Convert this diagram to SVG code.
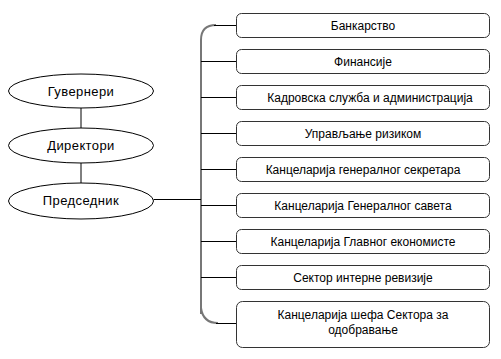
<svg xmlns="http://www.w3.org/2000/svg" width="501" height="359" viewBox="0 0 501 359">
<style>
.ell{fill:#fff;stroke:#000;stroke-width:1}
.box{fill:#fff;stroke:#333;stroke-width:1}
.t{font-family:"Liberation Sans",Arial,sans-serif;font-size:12px;fill:#000;text-anchor:middle}
.te{font-family:"Liberation Sans",Arial,sans-serif;font-size:13px;fill:#000;text-anchor:middle;letter-spacing:0.4px}
.c{stroke:#000;stroke-width:1;fill:none}
.bus{stroke:#777;stroke-width:2;fill:none}
</style>
<rect width="501" height="359" fill="#fff"/>
<g id="connectors">
<path class="bus" d="M201,314 V40 Q201,25 216,25"/>
<path class="bus" d="M201,300 V308 Q203,323 218,323"/>
<line class="c" x1="81" y1="108" x2="81" y2="128"/>
<line class="c" x1="81" y1="163" x2="81" y2="183"/>
<line class="c" x1="153.5" y1="199.5" x2="201" y2="199.5"/>
<line class="c" x1="214" y1="25.5" x2="236" y2="25.5"/>
<line class="c" x1="201" y1="61.5" x2="236" y2="61.5"/>
<line class="c" x1="201" y1="97.5" x2="236" y2="97.5"/>
<line class="c" x1="201" y1="133.5" x2="236" y2="133.5"/>
<line class="c" x1="201" y1="169.5" x2="236" y2="169.5"/>
<line class="c" x1="201" y1="205.5" x2="236" y2="205.5"/>
<line class="c" x1="201" y1="241.5" x2="236" y2="241.5"/>
<line class="c" x1="201" y1="277.5" x2="236" y2="277.5"/>
<line class="c" x1="216" y1="323.5" x2="236" y2="323.5"/>
</g>
<g id="guverneri"><ellipse class="ell" cx="81" cy="91" rx="72.5" ry="17"/><text class="te" x="81" y="96">Гувернери</text></g>
<g id="direktori"><ellipse class="ell" cx="81" cy="145.5" rx="72.5" ry="17.5"/><text class="te" x="81" y="150">Директори</text></g>
<g id="predsednik"><ellipse class="ell" cx="81" cy="201" rx="72.5" ry="18"/><text class="te" x="81" y="205">Председник</text></g>
<g id="b1"><rect class="box" x="236.5" y="13.5" width="253" height="24" rx="5"/><text class="t" x="363" y="30">Банкарство</text></g>
<g id="b2"><rect class="box" x="236.5" y="49.5" width="253" height="24" rx="5"/><text class="t" x="363" y="66">Финансије</text></g>
<g id="b3"><rect class="box" x="236.5" y="85.5" width="253" height="24" rx="5"/><text class="t" x="370" y="102">Кадровска служба и администрација</text></g>
<g id="b4"><rect class="box" x="236.5" y="121.5" width="253" height="24" rx="5"/><text class="t" x="363" y="138">Управљање ризиком</text></g>
<g id="b5"><rect class="box" x="236.5" y="157.5" width="253" height="24" rx="5"/><text class="t" x="363" y="174">Канцеларија генералног секретара</text></g>
<g id="b6"><rect class="box" x="236.5" y="193.5" width="253" height="24" rx="5"/><text class="t" x="363" y="210">Канцеларија Генералног савета</text></g>
<g id="b7"><rect class="box" x="236.5" y="229.5" width="253" height="24" rx="5"/><text class="t" x="363" y="246">Канцеларија Главног економисте</text></g>
<g id="b8"><rect class="box" x="236.5" y="265.5" width="253" height="24" rx="5"/><text class="t" x="363" y="282">Сектор интерне ревизије</text></g>
<g id="b9"><rect class="box" x="236.5" y="301.5" width="253" height="46" rx="6"/><text class="t" x="363" y="319">Канцеларија шефа Сектора за</text><text class="t" x="363" y="334">одобравање</text></g>
</svg>
